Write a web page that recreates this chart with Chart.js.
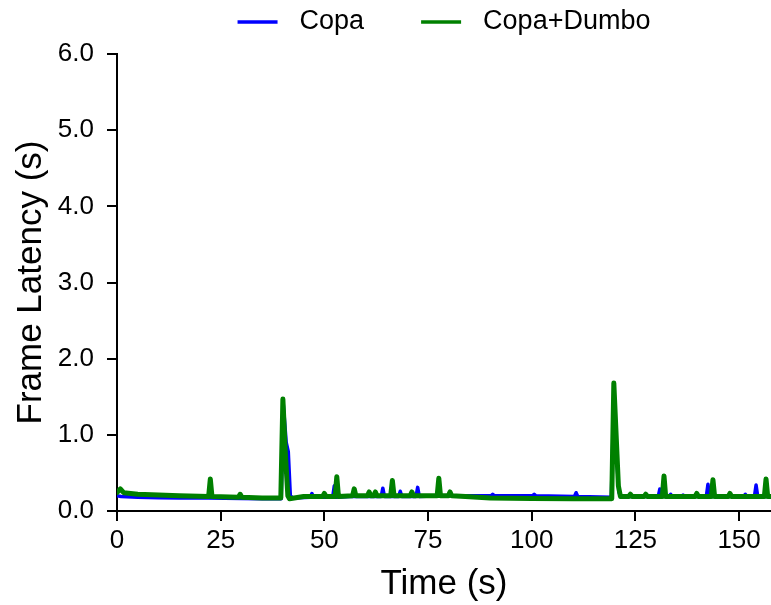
<!DOCTYPE html>
<html>
<head>
<meta charset="utf-8">
<script src="https://cdn.jsdelivr.net/npm/chart.js@4/dist/chart.umd.min.js"></script>
<style>
  html, body { margin: 0; padding: 0; background: #fff; }
  #wrap { width: 771px; height: 605px; }
</style>
</head>
<body>
<div id="wrap"><canvas id="myChart" width="771" height="605"></canvas></div>
<script>
// Copa (blue) - time in seconds, frame latency in seconds
var copaTime = [0, 1, 5, 10, 15, 22, 30, 35, 39.6, 40.1, 40.8, 41.3, 41.8, 42.5,
  46.6, 47.0, 47.4, 52.0, 52.4, 52.8, 56, 63.7, 64.1, 64.5, 67.9, 68.3, 68.7,
  72.1, 72.5, 72.9, 78, 84, 90.2, 90.6, 91.0, 100.2, 100.6, 101.0, 110.3, 110.7, 111.1,
  119.2, 119.8, 120.5, 121.0, 121.5, 124, 130.5, 130.9, 131.3, 133.1, 133.5, 133.9,
  136.1, 136.5, 136.9, 142.1, 142.5, 142.9, 151.1, 151.5, 151.9, 153.7, 154.1, 154.5, 157.7];
var copaLatency = [0.2, 0.19, 0.18, 0.175, 0.17, 0.17, 0.165, 0.16, 0.16, 1.4, 0.9, 0.78, 0.2, 0.17,
  0.18, 0.23, 0.18, 0.18, 0.33, 0.18, 0.19, 0.19, 0.3, 0.19, 0.19, 0.26, 0.19,
  0.19, 0.31, 0.19, 0.2, 0.2, 0.2, 0.22, 0.2, 0.2, 0.22, 0.2, 0.19, 0.24, 0.19,
  0.18, 1.45, 0.7, 0.25, 0.18, 0.19, 0.19, 0.29, 0.19, 0.19, 0.22, 0.19,
  0.19, 0.21, 0.19, 0.19, 0.35, 0.19, 0.19, 0.22, 0.19, 0.19, 0.34, 0.19, 0.19];

// Copa+Dumbo (green)
var dumboTime = [0, 0.8, 1.6, 5, 10, 15, 22.1, 22.5, 22.9, 29.3, 29.7, 30.1, 35, 39.5, 40.0, 40.6,
  41.2, 41.6, 45, 49.6, 50.0, 50.4, 52.6, 53.0, 53.4, 56.8, 57.2, 57.6, 60.4, 60.8, 61.2,
  61.9, 62.3, 62.7, 66.0, 66.4, 66.8, 70.7, 71.1, 71.5, 77.2, 77.6, 78.0, 79.9, 80.3, 80.7,
  84, 90, 100, 110, 119.3, 119.8, 120.9, 121.4, 123.4, 123.8, 124.2, 127.1, 127.5, 127.9,
  131.5, 131.9, 132.3, 139.4, 139.8, 140.2, 143.3, 143.7, 144.1, 147.4, 147.8, 148.2,
  156.1, 156.5, 156.9, 157.7];
var dumboLatency = [0.24, 0.29, 0.24, 0.22, 0.21, 0.2, 0.19, 0.42, 0.19, 0.18, 0.22, 0.18, 0.17, 0.17, 1.47, 0.75,
  0.2, 0.16, 0.19, 0.19, 0.23, 0.19, 0.19, 0.45, 0.19, 0.2, 0.29, 0.2, 0.2, 0.25, 0.2,
  0.2, 0.25, 0.2, 0.2, 0.4, 0.2, 0.2, 0.25, 0.2, 0.2, 0.43, 0.2, 0.2, 0.25, 0.2,
  0.19, 0.17, 0.165, 0.16, 0.16, 1.68, 0.33, 0.19, 0.19, 0.22, 0.19, 0.19, 0.22, 0.19,
  0.19, 0.46, 0.19, 0.19, 0.23, 0.19, 0.19, 0.41, 0.19, 0.19, 0.23, 0.19,
  0.19, 0.42, 0.19, 0.19];

var xTicks = [0, 25, 50, 75, 100, 125, 150];
var yTicks = [0, 1, 2, 3, 4, 5, 6];

function toPoints(xs, ys) {
  return xs.map(function (x, i) { return { x: x, y: ys[i] }; });
}

var FONT = "'Liberation Sans', Arial, sans-serif";

// legend drawn above the plot: short line then label, centred over the chart area
var lineLegend = {
  id: 'lineLegend',
  afterDraw: function (chart) {
    var c = chart.ctx, area = chart.chartArea;
    var lineLen = 40, gap = 22, spacing = 57, y = 22;
    c.save();
    c.font = '27px ' + FONT;
    c.textBaseline = 'middle';
    var items = chart.data.datasets.map(function (ds) {
      return { label: ds.label, color: ds.borderColor, w: c.measureText(ds.label).width };
    });
    var total = 0;
    items.forEach(function (it, i) { total += lineLen + gap + it.w + (i ? spacing : 0); });
    var x = (area.left + area.right) / 2 - total / 2;
    items.forEach(function (it) {
      c.strokeStyle = it.color;
      c.lineWidth = 3.5;
      c.beginPath();
      c.moveTo(x, y);
      c.lineTo(x + lineLen, y);
      c.stroke();
      c.fillStyle = '#000';
      c.fillText(it.label, x + lineLen + gap, y);
      x += lineLen + gap + it.w + spacing;
    });
    c.restore();
  }
};

var ctx = document.getElementById('myChart').getContext('2d');
var myChart = new Chart(ctx, {
    type: 'line',
    data: {
        datasets: [{
            label: 'Copa',
            data: toPoints(copaTime, copaLatency),
            borderColor: '#0000ff',
            backgroundColor: '#0000ff',
            borderWidth: 3.5,
            pointRadius: 0,
            tension: 0,
            order: 2,
            borderJoinStyle: 'round',
            borderCapStyle: 'round'
        }, {
            label: 'Copa+Dumbo',
            data: toPoints(dumboTime, dumboLatency),
            borderColor: '#008000',
            backgroundColor: '#008000',
            borderWidth: 5,
            pointRadius: 0,
            tension: 0,
            order: 1,
            borderJoinStyle: 'round',
            borderCapStyle: 'round'
        }]
    },
    options: {
        responsive: false,
        animation: false,
        layout: { padding: { left: 0, right: 0, top: 54, bottom: 0 } },
        plugins: {
            legend: { display: false },
            tooltip: { enabled: false }
        },
        scales: {
            x: {
                type: 'linear',
                min: 0,
                max: 157.7,
                afterBuildTicks: function (axis) {
                    axis.ticks = xTicks.map(function (v) { return { value: v }; });
                },
                afterFit: function (axis) { axis.height = 94; },
                ticks: {
                    color: '#000',
                    font: { family: FONT, size: 26 },
                    padding: 4,
                    maxRotation: 0
                },
                grid: { drawOnChartArea: false, color: '#000', lineWidth: 2, tickLength: 10 },
                border: { color: '#000', width: 2 },
                title: {
                    display: true,
                    text: 'Time (s)',
                    color: '#000',
                    font: { family: FONT, size: 35 },
                    padding: { top: 0, bottom: 0 }
                }
            },
            y: {
                min: 0,
                max: 6,
                afterBuildTicks: function (axis) {
                    axis.ticks = yTicks.map(function (v) { return { value: v }; });
                },
                afterFit: function (axis) { axis.width = 117; },
                ticks: {
                    color: '#000',
                    font: { family: FONT, size: 26 },
                    padding: 13,
                    callback: function (v) { return v.toFixed(1); }
                },
                grid: { drawOnChartArea: false, color: '#000', lineWidth: 2, tickLength: 10 },
                border: { color: '#000', width: 2 },
                title: {
                    display: true,
                    text: 'Frame Latency (s)',
                    color: '#000',
                    font: { family: FONT, size: 35 },
                    padding: { top: 10, bottom: 0 }
                }
            }
        }
    },
    plugins: [lineLegend]
});
</script>
</body>
</html>
